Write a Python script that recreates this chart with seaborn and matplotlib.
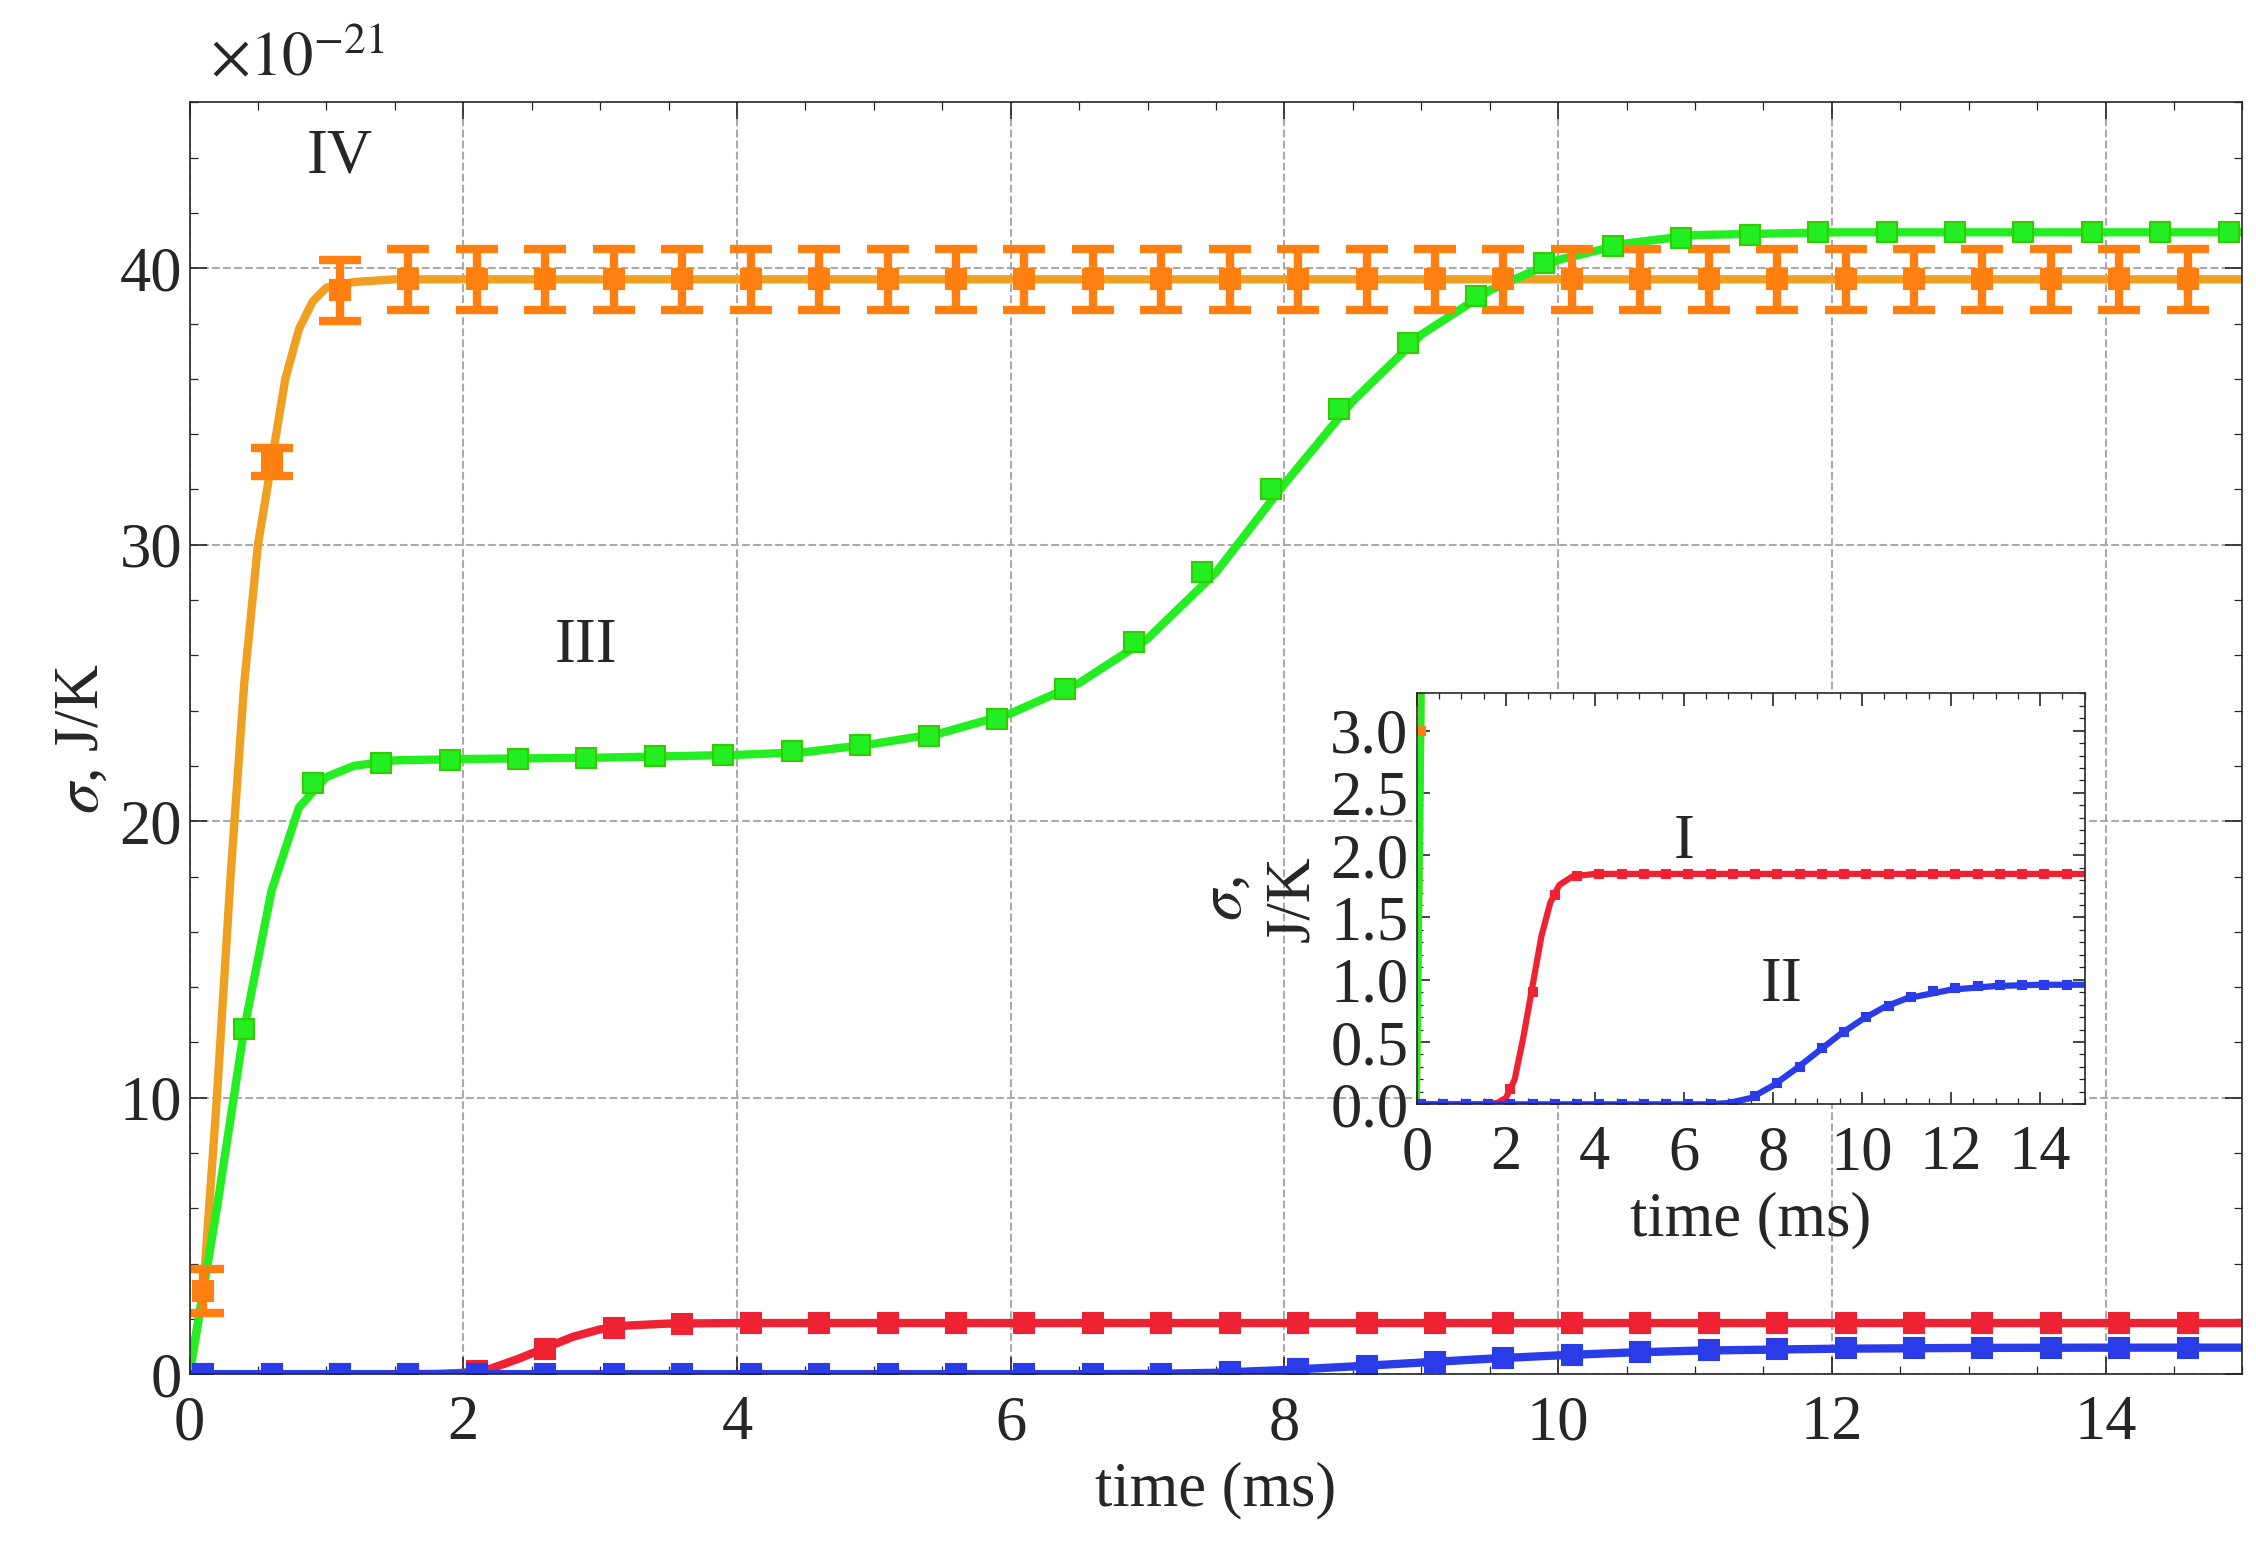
import numpy as np
import pandas as pd
import seaborn as sns
import matplotlib
matplotlib.use("Agg")
import matplotlib.pyplot as plt
from matplotlib.ticker import MultipleLocator

sns.set_style("ticks")
plt.rcParams['font.family'] = ['Liberation Serif', 'DejaVu Serif']
plt.rcParams['mathtext.fontset'] = 'stix'

# curves (units of 1e-21 J/K), time in ms
t_IV = [0, 0.1, 0.2, 0.3, 0.4, 0.5, 0.6, 0.7, 0.8, 0.9, 1.0, 1.2, 1.5, 2, 4, 6, 8, 10, 12, 15]
s_IV = [0, 3, 10, 18, 25, 30, 33, 36, 37.8, 38.8, 39.3, 39.5, 39.6, 39.6, 39.6, 39.6, 39.6, 39.6, 39.6, 39.6]
t_III = [0, 0.2, 0.4, 0.6, 0.8, 1.0, 1.2, 1.5, 2, 3, 4, 4.5, 5, 5.5, 6, 6.5, 7, 7.5, 8, 8.5, 9, 9.5, 10, 10.5, 11, 12, 13, 14, 15]
s_III = [0, 6, 12.5, 17.5, 20.5, 21.6, 22.0, 22.2, 22.25, 22.3, 22.4, 22.5, 22.8, 23.2, 23.9, 25.0, 26.6, 29.0, 32.2, 35.2, 37.6, 39.2, 40.3, 40.9, 41.2, 41.3, 41.3, 41.3, 41.3]
t_I = [0, 1.5, 1.8, 2.0, 2.2, 2.4, 2.6, 2.8, 3.0, 3.2, 3.5, 4, 6, 10, 15]
s_I = [0, 0, 0.01, 0.05, 0.2, 0.55, 0.95, 1.35, 1.62, 1.76, 1.83, 1.85, 1.85, 1.85, 1.85]
t_II = [0, 6.5, 7.0, 7.5, 8.0, 8.5, 9.0, 9.5, 10.0, 10.5, 11, 12, 13, 14, 15]
s_II = [0, 0, 0.01, 0.05, 0.15, 0.28, 0.42, 0.56, 0.68, 0.78, 0.85, 0.92, 0.95, 0.96, 0.96]

# markers
m_t_IV = [0.1, 0.6] + list(np.arange(1.1, 15.1, 0.5))
m_s_IV = [3, 33] + [39.2] + [39.6] * (len(m_t_IV) - 3)
m_e_IV = [0.8, 0.5] + [1.1] * (len(m_t_IV) - 2)
m_t_III = [0.4, 0.9, 1.4, 1.9, 2.4, 2.9, 3.4, 3.9, 4.4, 4.9, 5.4, 5.9, 6.4, 6.9, 7.4, 7.9, 8.4, 8.9, 9.4, 9.9, 10.4, 10.9, 11.4, 11.9, 12.4, 12.9, 13.4, 13.9, 14.4, 14.9]
m_s_III = [12.5, 21.4, 22.1, 22.2, 22.25, 22.3, 22.35, 22.4, 22.55, 22.75, 23.1, 23.7, 24.8, 26.5, 29.0, 32.0, 34.9, 37.3, 39.0, 40.2, 40.8, 41.1, 41.2, 41.3, 41.3, 41.3, 41.3, 41.3, 41.3, 41.3]
m_t_I = [0.1, 0.6, 1.1, 1.6, 2.1, 2.6, 3.1, 3.6, 4.1, 4.6, 5.1, 5.6, 6.1, 6.6, 7.1, 7.6, 8.1, 8.6, 9.1, 9.6, 10.1, 10.6, 11.1, 11.6, 12.1, 12.6, 13.1, 13.6, 14.1, 14.6]
m_s_I = [0, 0, 0, 0, 0.12, 0.9, 1.68, 1.83] + [1.85] * 22
m_t_II = [0.1, 0.6, 1.1, 1.6, 2.1, 2.6, 3.1, 3.6, 4.1, 4.6, 5.1, 5.6, 6.1, 6.6, 7.1, 7.6, 8.1, 8.6, 9.1, 9.6, 10.1, 10.6, 11.1, 11.6, 12.1, 12.6, 13.1, 13.6, 14.1, 14.6]
m_s_II = [0] * 15 + [0.07, 0.17, 0.3, 0.45, 0.58, 0.7, 0.79, 0.86, 0.91, 0.93, 0.95, 0.96, 0.96, 0.96, 0.96]

C_IV, C_IVm = '#f0a020', '#ff8010'
C_III = '#22ee22'
C_I = '#ee2233'
C_II = '#2a3ce8'

fig = plt.figure(figsize=(15.04, 10.34), dpi=150)
ax = fig.add_axes([0.084, 0.114, 0.91, 0.82])

def draw(a, lw, ms, eb=True, caps=10):
    for t, s, c in [(t_IV, s_IV, C_IV), (t_III, s_III, C_III), (t_I, s_I, C_I), (t_II, s_II, C_II)]:
        sns.lineplot(x=t, y=s, ax=a, color=c, lw=lw, legend=False)
    if eb:
        a.errorbar(m_t_IV, m_s_IV, yerr=m_e_IV, fmt='s', color=C_IVm, ms=ms, capsize=caps, capthick=4, elinewidth=4)
    else:
        a.plot(m_t_IV, m_s_IV, 's', color=C_IVm, ms=ms)
    a.plot(m_t_III, m_s_III, 's', color=C_III, ms=ms, mec='#33cc00')
    a.plot(m_t_I, m_s_I, 's', color=C_I, ms=ms)
    a.plot(m_t_II, m_s_II, 's', color=C_II, ms=ms)

draw(ax, 4, 10)
ax.set_xlim(0, 15)
ax.set_ylim(0, 46)
ax.xaxis.set_major_locator(MultipleLocator(2))
ax.xaxis.set_minor_locator(MultipleLocator(0.5))
ax.yaxis.set_major_locator(MultipleLocator(10))
ax.yaxis.set_minor_locator(MultipleLocator(2))
ax.grid(True, which='major', ls='--', color='#aaaaaa', lw=1)
ax.tick_params(which='both', direction='in', top=True, right=True, labelsize=30)
ax.tick_params(which='major', length=8)
ax.tick_params(which='minor', length=4)
ax.tick_params(axis='x', pad=10)
ax.set_xlabel('time (ms)', fontsize=30)
ax.set_ylabel(r'$\sigma$, J/K', fontsize=30)
ax.text(0.01, 1.01, r'$\times 10^{-21}$', transform=ax.transAxes, fontsize=30, va='bottom')
ax.text(1.1, 44, 'IV', fontsize=30, ha='center', va='center')
ax.text(2.9, 26.3, 'III', fontsize=30, ha='center', va='center')

ins = fig.add_axes([0.628, 0.288, 0.296, 0.265])
draw(ins, 3, 4, eb=False)
ins.set_xlim(0, 15)
ins.set_ylim(0, 3.3)
ins.xaxis.set_major_locator(MultipleLocator(2))
ins.xaxis.set_minor_locator(MultipleLocator(0.5))
ins.yaxis.set_major_locator(MultipleLocator(0.5))
ins.yaxis.set_minor_locator(MultipleLocator(0.1))
ins.tick_params(which='both', direction='in', top=True, right=True, labelsize=30, pad=4)
ins.tick_params(axis='x', pad=10)
ins.tick_params(which='major', length=6)
ins.tick_params(which='minor', length=3)
ins.set_xlabel('time (ms)', fontsize=30)
ins.set_ylabel('$\\sigma$,\nJ/K', fontsize=30)
ins.text(6, 2.1, 'I', fontsize=30, ha='center', va='center')
ins.text(8.2, 0.95, 'II', fontsize=30, ha='center', va='center')

fig.savefig('out.png', dpi=150)
